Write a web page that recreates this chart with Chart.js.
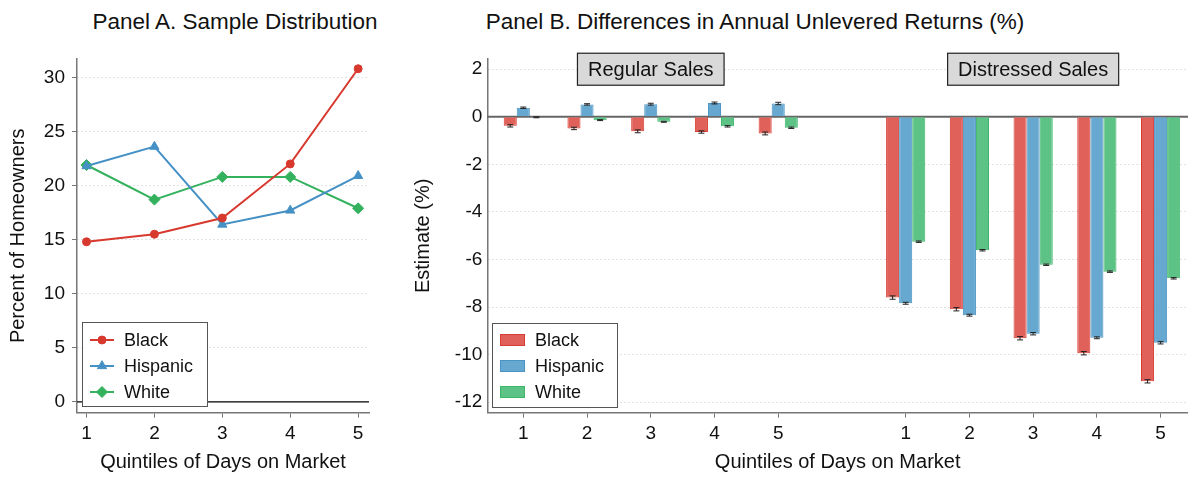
<!DOCTYPE html>
<html>
<head>
<meta charset="utf-8">
<script src="https://cdn.jsdelivr.net/npm/chart.js@4.4.1/dist/chart.umd.min.js"></script>
<style>
  body{margin:0;background:#fff;font-family:"Liberation Sans",Arial,Helvetica,sans-serif;}
  #wrap{position:relative;width:1188px;height:477px;overflow:hidden;}
  canvas{position:absolute;top:0;}
  .ttl{position:absolute;top:9px;font-size:22.5px;color:#111;white-space:nowrap;transform:translateX(-50%);}
</style>
</head>
<body>
<div id="wrap">
  <div class="ttl" style="left:235px">Panel A. Sample Distribution</div>
  <div class="ttl" style="left:755px">Panel B. Differences in Annual Unlevered Returns (%)</div>
  <canvas id="cA" width="380" height="477" style="left:0"></canvas>
  <canvas id="cB" width="798" height="477" style="left:390px"></canvas>
</div>
<script>
// ---- data ----
const quintiles = [1, 2, 3, 4, 5];
const groups = ['Black', 'Hispanic', 'White'];

// Panel A: percent of homeowners in each quintile
const shareBlack = [14.8, 15.5, 17.0, 22.0, 30.8];
const shareHispanic = [21.8, 23.6, 16.4, 17.7, 20.9];
const shareWhite = [21.9, 18.7, 20.8, 20.8, 17.9];

// Panel B: regular sales slots 1-5, empty slot, distressed sales slots 1-5
const salesGroups = ['Regular Sales', 'Distressed Sales'];
const xTickLabels = ['1', '2', '3', '4', '5', '', '1', '2', '3', '4', '5'];
const estBlack = [-0.38, -0.49, -0.61, -0.64, -0.70, null, -7.60, -8.09, -9.31, -9.94, -11.12];
const estHispanic = [0.38, 0.52, 0.53, 0.58, 0.56, null, -7.84, -8.34, -9.12, -9.29, -9.50];
const estWhite = [-0.02, -0.14, -0.21, -0.40, -0.46, null, -5.25, -5.61, -6.22, -6.51, -6.79];
const errBlack = [0.05, 0.05, 0.06, 0.05, 0.06, null, 0.07, 0.07, 0.07, 0.07, 0.07];
const errHispanic = [0.03, 0.03, 0.04, 0.04, 0.05, null, 0.04, 0.04, 0.05, 0.04, 0.05];
const errWhite = [0.02, 0.02, 0.02, 0.03, 0.03, null, 0.03, 0.03, 0.03, 0.03, 0.03];

const ff = '"Liberation Sans", Arial, Helvetica, sans-serif';
Chart.defaults.font.family = ff;
Chart.defaults.color = '#111';

const lineCols = ['#d8392e', '#4591c5', '#33b15d'];
const barFill = ['#df6159', '#67a8d0', '#5dc286'];
const barEdge = ['#d93c31', '#4a93c4', '#3db667'];

// ---------- Panel A ----------
const zeroLineA = {
  id: 'zeroLineA',
  beforeDatasetsDraw(chart){
    const {ctx, chartArea:a, scales:{y}} = chart;
    const py = y.getPixelForValue(0);
    ctx.save(); ctx.strokeStyle = '#000'; ctx.lineWidth = 1.2;
    ctx.beginPath(); ctx.moveTo(a.left, py); ctx.lineTo(a.right, py); ctx.stroke();
    ctx.restore();
  }
};
const legendA = {
  id: 'legendA',
  afterDraw(chart){
    const ctx = chart.ctx;
    ctx.save();
    ctx.fillStyle = '#fff'; ctx.strokeStyle = '#555'; ctx.lineWidth = 1;
    ctx.fillRect(82.5, 322.5, 125, 84); ctx.strokeRect(82.5, 322.5, 125, 84);
    chart.data.datasets.forEach((ds, i)=>{
      const y = 340 + i*26;
      ctx.strokeStyle = ds.borderColor; ctx.fillStyle = ds.borderColor; ctx.lineWidth = 2;
      ctx.beginPath(); ctx.moveTo(90, y); ctx.lineTo(114, y); ctx.stroke();
      ctx.lineWidth = 1;
      Chart.helpers.drawPoint(ctx, {pointStyle: ds.pointStyle, radius: ds.pointRadius, rotation: 0, borderWidth: 1}, 102, y);
      ctx.fillStyle = '#111'; ctx.font = '18px ' + ff; ctx.textBaseline = 'middle';
      ctx.fillText(ds.label, 124, y + 1);
    });
    ctx.restore();
  }
};
const mkLine = (i, vals, style, r)=>({
  label: groups[i],
  data: quintiles.map((q, k)=>({x: q, y: vals[k]})),
  borderColor: lineCols[i], backgroundColor: lineCols[i],
  pointStyle: style, pointRadius: r, pointBorderWidth: 1, borderWidth: 2, tension: 0
});
new Chart(document.getElementById('cA'), {
  type: 'line',
  data: { datasets: [
    mkLine(0, shareBlack, 'circle', 4),
    mkLine(1, shareHispanic, 'triangle', 5.3),
    mkLine(2, shareWhite, 'rectRot', 5.5)
  ]},
  options: {
    responsive: false, animation: false,
    layout: {padding: {top: 59, right: 11, left: 0, bottom: 0}},
    plugins: {legend: {display: false}, tooltip: {enabled: false}},
    scales: {
      x: {type: 'linear', min: 0.86, max: 5.16,
        ticks: {stepSize: 1, includeBounds: false, autoSkip: false, font: {size: 19}, padding: 5, color: '#111'},
        grid: {drawOnChartArea: false, tickLength: 5, tickColor: '#777'},
        border: {color: '#777', width: 1.5},
        title: {display: true, text: 'Quintiles of Days on Market', font: {size: 20}, padding: {top: 0, bottom: 3}, color: '#111'},
        afterFit(s){ s.height = 64.3; }
      },
      y: {min: -1, max: 31.7,
        ticks: {stepSize: 5, includeBounds: false, font: {size: 19}, padding: 7, color: '#111'},
        grid: {color: c=> (c.tick && c.tick.value === 0) ? 'rgba(0,0,0,0)' : '#c4c4c4', lineWidth: 1,
               tickLength: 5, tickColor: '#777', tickBorderDash: []},
        border: {color: '#777', width: 1.5, dash: [1, 3]},
        title: {display: true, text: 'Percent of Homeowners', font: {size: 20}, padding: {top: 6, bottom: 0}, color: '#111'},
        afterFit(s){ s.width = 77; }
      }
    }
  },
  plugins: [zeroLineA, legendA]
});

// ---------- Panel B ----------
const zeroLineB = {
  id: 'zeroLineB',
  beforeDatasetsDraw(chart){
    const {ctx, chartArea:a, scales:{y}} = chart;
    const py = y.getPixelForValue(0);
    ctx.save(); ctx.strokeStyle = '#666'; ctx.lineWidth = 2;
    ctx.beginPath(); ctx.moveTo(a.left, py); ctx.lineTo(a.right, py); ctx.stroke();
    ctx.restore();
  }
};
const errBars = {
  id: 'errBars',
  afterDatasetsDraw(chart){
    const {ctx, scales:{y}} = chart;
    ctx.save(); ctx.strokeStyle = '#222'; ctx.lineWidth = 1;
    chart.data.datasets.forEach((ds, i)=>{
      const meta = chart.getDatasetMeta(i);
      meta.data.forEach((bar, j)=>{
        const p = ds.data[j];
        const y1 = y.getPixelForValue(p.y - p.e), y2 = y.getPixelForValue(p.y + p.e);
        ctx.beginPath();
        ctx.moveTo(bar.x, y1); ctx.lineTo(bar.x, y2);
        ctx.moveTo(bar.x - 3, y1); ctx.lineTo(bar.x + 3, y1);
        ctx.moveTo(bar.x - 3, y2); ctx.lineTo(bar.x + 3, y2);
        ctx.stroke();
      });
    });
    ctx.restore();
  }
};
const salesBoxes = {
  id: 'salesBoxes',
  afterDatasetsDraw(chart){
    const {ctx, scales:{x, y}} = chart;
    ctx.save();
    ctx.font = '20px ' + ff; ctx.textAlign = 'center'; ctx.textBaseline = 'middle';
    salesGroups.forEach((name, g)=>{
      const cx = x.getPixelForValue(g*6 + 3), cy = y.getPixelForValue(2);
      const w = ctx.measureText(name).width + 21, h = 32;
      ctx.fillStyle = '#d9d9d9'; ctx.fillRect(cx - w/2, cy - h/2, w, h);
      ctx.strokeStyle = '#222'; ctx.lineWidth = 1.2; ctx.strokeRect(cx - w/2, cy - h/2, w, h);
      ctx.fillStyle = '#111'; ctx.fillText(name, cx, cy + 1);
    });
    ctx.restore();
  }
};
const legendB = {
  id: 'legendB',
  afterDraw(chart){
    const ctx = chart.ctx;
    ctx.save();
    ctx.fillStyle = '#fff'; ctx.strokeStyle = '#555'; ctx.lineWidth = 1;
    ctx.fillRect(102.5, 323.5, 125, 84); ctx.strokeRect(102.5, 323.5, 125, 84);
    chart.data.datasets.forEach((ds, i)=>{
      const y = 340 + i*26;
      ctx.fillStyle = ds.backgroundColor; ctx.fillRect(110, y - 6, 25, 12);
      ctx.strokeStyle = ds.borderColor; ctx.strokeRect(110.5, y - 5.5, 24, 11);
      ctx.fillStyle = '#111'; ctx.font = '18px ' + ff; ctx.textBaseline = 'middle';
      ctx.fillText(ds.label, 145, y + 1);
    });
    ctx.restore();
  }
};
const mkBar = (i, vals, errs)=>({
  label: groups[i],
  data: vals.map((v, k)=>({x: k + 1, y: v, e: errs[k]})).filter(p=> p.y !== null),
  backgroundColor: barFill[i], borderColor: barEdge[i], borderWidth: 1,
  categoryPercentage: 0.615, barPercentage: 1.0
});
new Chart(document.getElementById('cB'), {
  type: 'bar',
  data: { datasets: [
    mkBar(0, estBlack, errBlack),
    mkBar(1, estHispanic, errHispanic),
    mkBar(2, estWhite, errWhite)
  ]},
  options: {
    responsive: false, animation: false,
    layout: {padding: {top: 59, right: 0, left: 0, bottom: 0}},
    plugins: {legend: {display: false}, tooltip: {enabled: false}},
    scales: {
      x: {type: 'linear', min: 0.435, max: 11.43, offset: false,
        ticks: {stepSize: 1, includeBounds: false, autoSkip: false, font: {size: 19}, padding: 5, color: '#111',
                callback: v=> xTickLabels[v - 1]},
        grid: {offset: false, drawOnChartArea: false, tickLength: 5,
               tickColor: c=> (c.tick && xTickLabels[c.tick.value - 1] === '') ? 'rgba(0,0,0,0)' : '#777'},
        border: {color: '#777', width: 1.5},
        title: {display: true, text: 'Quintiles of Days on Market', font: {size: 20}, padding: {top: 0, bottom: 3}, color: '#111'},
        afterFit(s){ s.height = 64.3; }
      },
      y: {min: -12.44, max: 2.43,
        ticks: {stepSize: 2, includeBounds: false, font: {size: 19}, padding: 5, color: '#111'},
        grid: {color: c=> (c.tick && c.tick.value === 0) ? 'rgba(0,0,0,0)' : '#c4c4c4', lineWidth: 1, drawTicks: false},
        border: {color: '#777', width: 1.5, dash: [1, 3]},
        title: {display: true, text: 'Estimate (%)', font: {size: 20}, padding: {top: 21, bottom: 0}, color: '#111'},
        afterFit(s){ s.width = 97.3; }
      }
    }
  },
  plugins: [zeroLineB, errBars, salesBoxes, legendB]
});
</script>
</body>
</html>
